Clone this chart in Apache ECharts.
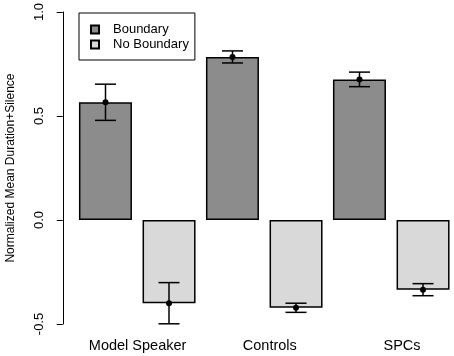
<!DOCTYPE html>
<html>
<head>
<meta charset="utf-8">
<script src="https://cdn.jsdelivr.net/npm/echarts@6/dist/echarts.min.js"></script>
<style>
  html, body { margin: 0; padding: 0; background: #fff; }
  #main { width: 454px; height: 356px; }
</style>
</head>
<body>
<div id="main"></div>
<script>
var categories = ['Model Speaker', 'Controls', 'SPCs'];
var boundaryMean = [0.566, 0.784, 0.676];
var boundarySE = [0.087, 0.029, 0.035];
var noBoundaryMean = [-0.40, -0.422, -0.335];
var noBoundarySE = [0.099, 0.022, 0.029];
var yTicks = [-0.5, 0.0, 0.5, 1.0];

var font = 'Liberation Sans, Arial, Helvetica, sans-serif';

function errData(means, ses) {
    return means.map(function (m, i) { return [i, m, ses[i]]; });
}

// side: -1 left bar of the group, +1 right bar
function errRender(side) {
    return function (params, api) {
        var catW = api.size([1, 0])[0];
        var x = api.coord([api.value(0), 0])[0] + side * catW / 4;
        var m = api.value(1), se = api.value(2);
        var yTop = api.coord([api.value(0), m + se])[1];
        var yBot = api.coord([api.value(0), m - se])[1];
        var yMid = api.coord([api.value(0), m])[1];
        var cap = 10.5;
        var st = { stroke: '#000', lineWidth: 1.5 };
        return {
            type: 'group',
            children: [
                { type: 'line', shape: { x1: x, y1: yTop, x2: x, y2: yBot }, style: st },
                { type: 'line', shape: { x1: x - cap, y1: yTop, x2: x + cap, y2: yTop }, style: st },
                { type: 'line', shape: { x1: x - cap, y1: yBot, x2: x + cap, y2: yBot }, style: st },
                { type: 'circle', shape: { cx: x, cy: yMid, r: 3 }, style: { fill: '#000' } }
            ]
        };
    };
}

var option = {
    animation: false,
    textStyle: { fontFamily: font },
    legend: {
        data: ['Boundary', 'No Boundary'],
        orient: 'vertical',
        left: 79,
        top: 13,
        padding: [9, 6, 8, 11],
        itemGap: 0,
        itemWidth: 8,
        itemHeight: 8,
        icon: 'rect',
        borderColor: '#000',
        borderWidth: 1,
        borderRadius: 0,
        textStyle: { fontSize: 13, color: '#000', lineHeight: 15, padding: [0, 0, 0, 9], fontFamily: font }
    },
    grid: [
        { left: 73.75, top: 12, width: 381, height: 312, outerBoundsMode: 'none', containLabel: false },
        { left: 71.5, top: 12, width: 396.6, height: 312, outerBoundsMode: 'none', containLabel: false }
    ],
    xAxis: [
        {
            type: 'category',
            gridIndex: 0,
            data: categories,
            axisLine: { show: false },
            axisTick: { show: false },
            axisLabel: { show: false },
            splitLine: { show: false }
        },
        {
            type: 'category',
            gridIndex: 1,
            data: categories,
            axisLine: { show: false },
            axisTick: { show: false },
            axisLabel: { color: '#000', fontSize: 14.5, margin: 14, fontFamily: font },
            splitLine: { show: false }
        }
    ],
    yAxis: [
        {
            type: 'value',
            gridIndex: 0,
            min: yTicks[0],
            max: yTicks[yTicks.length - 1],
            interval: 0.5,
            offset: 11,
            name: 'Normalized Mean Duration+Silence',
            nameLocation: 'middle',
            nameGap: 46,
            nameTextStyle: { color: '#000', fontSize: 12, fontFamily: font },
            axisLine: { show: true, lineStyle: { color: '#000', width: 1 } },
            axisTick: { show: true, length: 6, lineStyle: { color: '#000' } },
            axisLabel: {
                color: '#000',
                fontSize: 13,
                rotate: 90,
                margin: 17,
                fontFamily: font,
                formatter: function (v) { return v.toFixed(1); }
            },
            splitLine: { show: false }
        },
        {
            type: 'value',
            gridIndex: 1,
            show: false,
            min: yTicks[0],
            max: yTicks[yTicks.length - 1]
        }
    ],
    series: [
        {
            name: 'Boundary',
            type: 'bar',
            data: boundaryMean,
            barWidth: 53,
            barGap: '20%',
            itemStyle: { color: '#8c8c8c', borderColor: '#000', borderWidth: 1.5 }
        },
        {
            name: 'No Boundary',
            type: 'bar',
            data: noBoundaryMean,
            barWidth: 53,
            barGap: '20%',
            itemStyle: { color: '#d9d9d9', borderColor: '#000', borderWidth: 1.5 }
        },
        {
            name: 'err-boundary',
            type: 'custom',
            renderItem: errRender(-1),
            data: errData(boundaryMean, boundarySE),
            z: 5
        },
        {
            name: 'err-noboundary',
            type: 'custom',
            renderItem: errRender(1),
            data: errData(noBoundaryMean, noBoundarySE),
            z: 5
        }
    ]
};

var myChart = echarts.init(document.getElementById('main'));
myChart.setOption(option);
</script>
</body>
</html>
